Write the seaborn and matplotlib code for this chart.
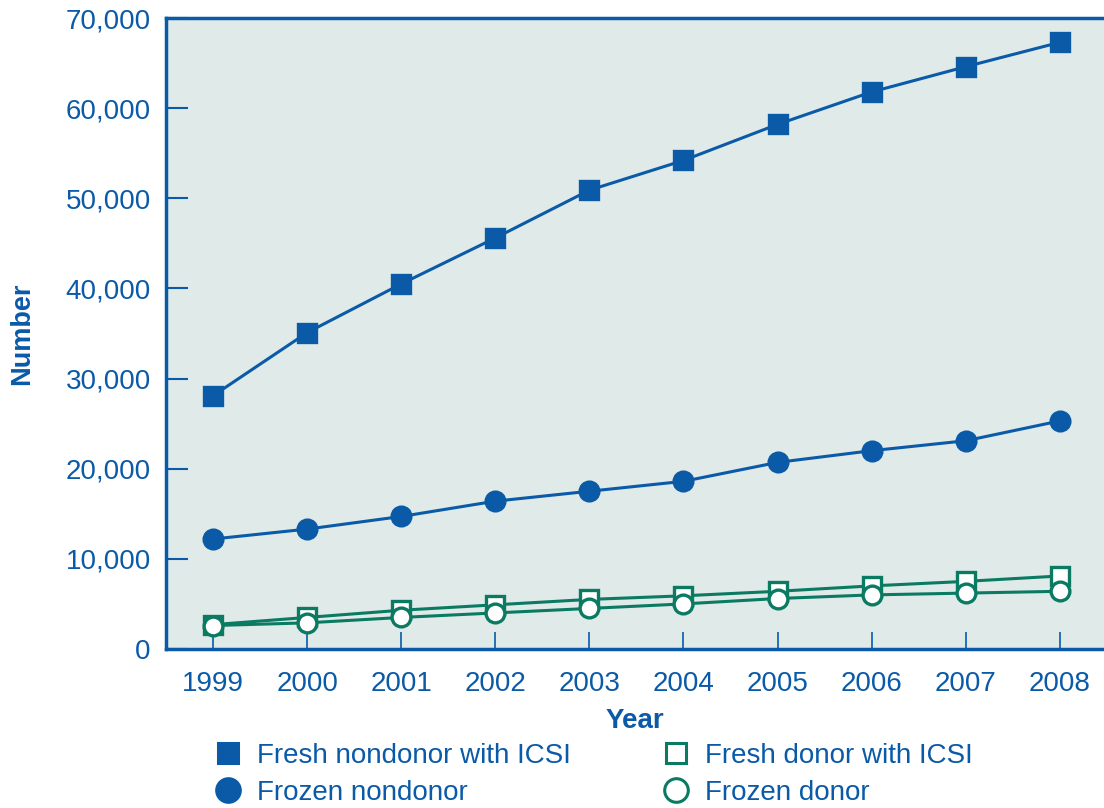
import pandas as pd
import seaborn as sns
import matplotlib.pyplot as plt
from matplotlib.lines import Line2D
from matplotlib.ticker import FuncFormatter

years = [1999, 2000, 2001, 2002, 2003, 2004, 2005, 2006, 2007, 2008]
fresh_nondonor_icsi = [28100, 35100, 40500, 45600, 50900, 54200, 58200, 61800, 64600, 67300]
frozen_nondonor = [12200, 13300, 14700, 16400, 17500, 18600, 20700, 22000, 23100, 25300]
fresh_donor_icsi = [2700, 3500, 4300, 4900, 5500, 5900, 6400, 7000, 7500, 8100]
frozen_donor = [2600, 2900, 3500, 4000, 4500, 5000, 5600, 6000, 6200, 6400]

blue = '#0a5aa8'
green = '#0b7a62'

sns.set_theme(style='white')
plt.rcParams['font.family'] = ['Liberation Sans', 'DejaVu Sans']

fig = plt.figure(figsize=(11.04, 8.08), dpi=100)
ax = fig.add_axes([0.1504, 0.1968, 0.8496, 0.7809])
ax.set_facecolor('#e0eae8')

series = [
    ('Fresh nondonor with ICSI', fresh_nondonor_icsi, blue, 's', blue),
    ('Frozen nondonor', frozen_nondonor, blue, 'o', blue),
    ('Fresh donor with ICSI', fresh_donor_icsi, green, 's', 'white'),
    ('Frozen donor', frozen_donor, green, 'o', 'white'),
]

handles = {}
for name, vals, col, mk, fc in series:
    df = pd.DataFrame({'year': years, 'n': vals})
    sz = 12.5 if mk == 's' else 13.5
    sns.lineplot(data=df, x='year', y='n', ax=ax, color=col, linewidth=2.2,
                 marker=mk, markersize=sz, markerfacecolor=fc,
                 markeredgecolor=col, markeredgewidth=2.4)
    handles[name] = Line2D([], [], linestyle='none', marker=mk,
                           markersize=14 if mk == 's' else 17,
                           markerfacecolor=fc, markeredgecolor=col, markeredgewidth=2.2)

ax.set_xlim(1998.5, 2008.47)
ax.set_ylim(0, 70000)
ax.set_xticks(years)
ax.set_yticks(range(0, 70001, 10000))
ax.yaxis.set_major_formatter(FuncFormatter(lambda v, p: f'{int(v):,}'))

for s in ['left', 'bottom', 'top']:
    ax.spines[s].set_color(blue)
    ax.spines[s].set_linewidth(2.5)
ax.spines['right'].set_visible(False)

ax.tick_params(axis='y', direction='in', length=16, width=1.5, color=blue,
               labelcolor=blue, labelsize=20, pad=11, left=True)
ax.tick_params(axis='x', direction='in', length=12, width=1.2, color=blue,
               labelcolor=blue, labelsize=20, pad=16, bottom=True)

ax.set_xlabel('Year', color=blue, fontsize=20, fontweight='bold', labelpad=8)
ax.set_ylabel('Number', color=blue, fontsize=19.5, fontweight='bold', labelpad=22)

order = ['Fresh nondonor with ICSI', 'Frozen nondonor', 'Fresh donor with ICSI', 'Frozen donor']
leg = fig.legend([handles[k] for k in order], order, loc='lower left',
                 bbox_to_anchor=(0.1837, -0.011), ncol=2, frameon=False,
                 fontsize=20, handlelength=1.0, handletextpad=0.55,
                 columnspacing=3.28, labelspacing=0.38, borderaxespad=0)
for t in leg.get_texts():
    t.set_color(blue)

fig.savefig('out.png', dpi=100)
